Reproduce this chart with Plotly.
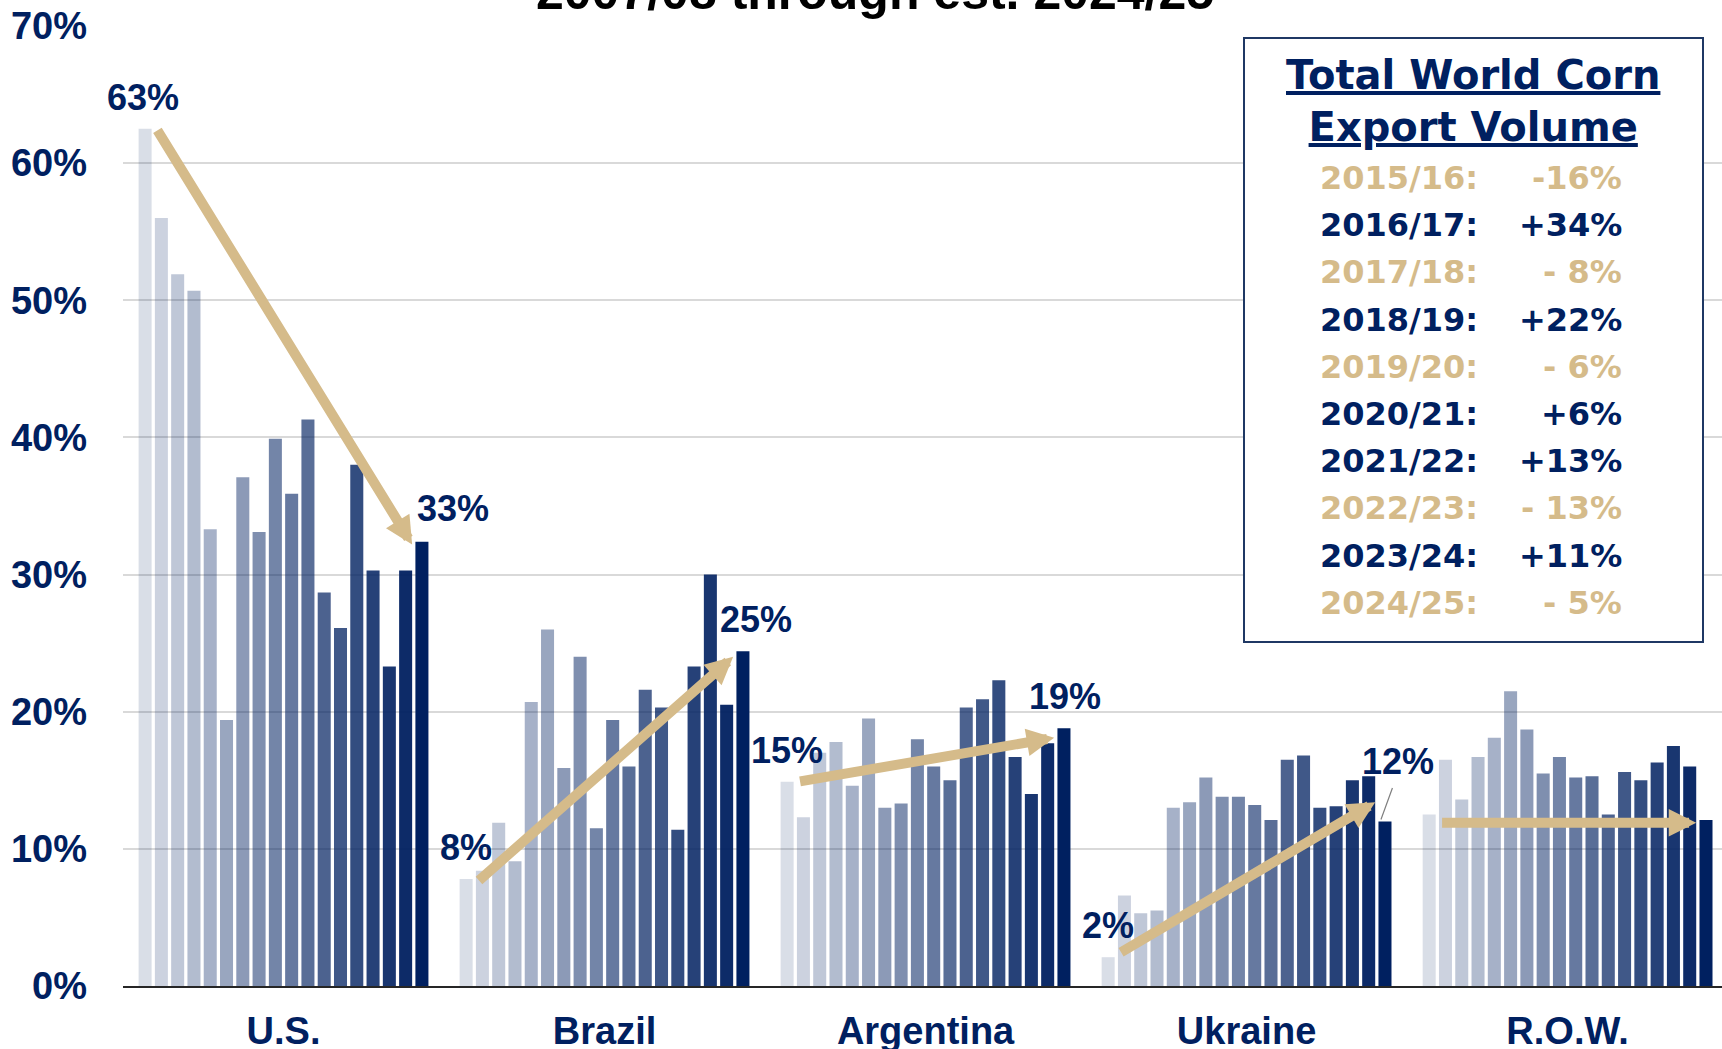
import plotly.graph_objects as go

# ---------------- data ----------------
countries = ["U.S.", "Brazil", "Argentina", "Ukraine", "R.O.W."]
years = ["2007/08", "2008/09", "2009/10", "2010/11", "2011/12", "2012/13", "2013/14",
         "2014/15", "2015/16", "2016/17", "2017/18", "2018/19", "2019/20", "2020/21",
         "2021/22", "2022/23", "2023/24", "2024/25"]

us = [62.5, 56.0, 51.9, 50.7, 33.3, 19.4, 37.1, 33.1, 39.9, 35.9, 41.3, 28.7, 26.1, 38.0, 30.3, 23.3, 30.3, 32.4]
brazil = [7.8, 8.4, 11.9, 9.1, 20.7, 26.0, 15.9, 24.0, 11.5, 19.4, 16.0, 21.6, 20.3, 11.4, 23.3, 30.0, 20.5, 24.4]
argentina = [14.9, 12.3, 17.0, 17.8, 14.6, 19.5, 13.0, 13.3, 18.0, 16.0, 15.0, 20.3, 20.9, 22.3, 16.7, 14.0, 17.7, 18.8]
ukraine = [2.1, 6.6, 5.3, 5.5, 13.0, 13.4, 15.2, 13.8, 13.8, 13.2, 12.1, 16.5, 16.8, 13.0, 13.1, 15.0, 15.3, 12.0]
row = [12.5, 16.5, 13.6, 16.7, 18.1, 21.5, 18.7, 15.5, 16.7, 15.2, 15.3, 12.5, 15.6, 15.0, 16.3, 17.5, 16.0, 12.1]

first_labels = ["63%", "8%", "15%", "2%", ""]
last_labels = ["33%", "25%", "19%", "12%", ""]

# trend arrows (start / end share, %)
arrow_start = [62.5, 7.6, 14.9, 2.4, 11.9]
arrow_end = [32.2, 24.0, 18.1, 13.4, 11.9]

table_years = ["2015/16:", "2016/17:", "2017/18:", "2018/19:", "2019/20:",
               "2020/21:", "2021/22:", "2022/23:", "2023/24:", "2024/25:"]
table_changes = ["-16%", "+34%", "- 8%", "+22%", "- 6%", "+6%", "+13%", "- 13%", "+11%", "- 5%"]

title_text = "2007/08 through est. 2024/25"
table_title_lines = ["Total World Corn", "Export Volume"]

# ---------------- style ----------------
NAVY = "#002060"
TAN = "#D5BB8A"
W, H = 1722, 1049
ML, MR, MT, MB = 123, 0, 26, 63
PW, PH = W - ML - MR, H - MT - MB
BARGAP = 0.087
NB = len(years)
XMAX = 4.481
FONT = "Liberation Sans, Arial, sans-serif"
TFONT = "DejaVu Sans, Verdana, sans-serif"

series = [us, brazil, argentina, ukraine, row]


def xpos(i, j):
    return i - 0.5 + BARGAP / 2 + (j + 0.5) * (1 - BARGAP) / NB


def px_x(px):
    return (px - ML) / PW


def px_y(py):
    return (H - MB - py) / PH


fig = go.Figure()
for j, yr in enumerate(years):
    a = 0.15 + 0.85 * j / (NB - 1)
    fig.add_trace(go.Bar(
        x=countries,
        y=[s[j] / 100 for s in series],
        name=yr,
        marker=dict(color=f"rgba(0,32,96,{a:.3f})", line=dict(width=0)),
    ))

annotations = []
first_shift = [(-2, 9), (0, 9), (0, 9), (0, 9), (0, 0)]
last_shift = [(31, 11), (13, 9), (1, 9), (13, 37), (0, 0)]
for i, s in enumerate(series):
    if first_labels[i]:
        annotations.append(dict(
            x=xpos(i, 0), y=s[0] / 100, xref="x", yref="y", text=f"<b>{first_labels[i]}</b>",
            showarrow=False, yanchor="bottom", xanchor="center",
            xshift=first_shift[i][0], yshift=first_shift[i][1],
            font=dict(family=FONT, size=36, color=NAVY)))
    if last_labels[i]:
        annotations.append(dict(
            x=xpos(i, NB - 1), y=s[-1] / 100, xref="x", yref="y", text=f"<b>{last_labels[i]}</b>",
            showarrow=False, yanchor="bottom", xanchor="center",
            xshift=last_shift[i][0], yshift=last_shift[i][1],
            font=dict(family=FONT, size=36, color=NAVY)))
    # trend arrow
    annotations.append(dict(
        x=xpos(i, 16.4), y=arrow_end[i] / 100, ax=xpos(i, 0.7), ay=arrow_start[i] / 100,
        xref="x", yref="y", axref="x", ayref="y", text="", showarrow=True,
        arrowhead=2, arrowsize=0.55, arrowwidth=10, arrowcolor=TAN, standoff=0, startstandoff=0))

# leader line for Ukraine 12%
annotations.append(dict(
    x=xpos(3, NB - 1), y=ukraine[-1] / 100, xref="x", yref="y", xshift=-4, yshift=2,
    ax=12, ay=-33, text="", showarrow=True, arrowhead=0, arrowwidth=1.2, arrowcolor="#7F7F7F"))

# title (cut off at top as in the original)
annotations.append(dict(
    x=px_x(875), y=1, xref="paper", yref="paper", yanchor="bottom", xanchor="center", yshift=4,
    text=f"<b>{title_text}</b>", showarrow=False,
    font=dict(family=FONT, size=50, color="black")))

# table box
title_html = "<br>".join(
    f"<span style='text-decoration:underline'><b>{t}</b></span>" for t in table_title_lines)
annotations.append(dict(
    x=px_x(1473), y=px_y(101), xref="paper", yref="paper", yanchor="middle", xanchor="center",
    text=title_html, showarrow=False, align="center",
    font=dict(family=TFONT, size=40, color=NAVY)))
for k, (yr, ch) in enumerate(zip(table_years, table_changes)):
    col = TAN if ch.startswith("-") else NAVY
    yc = 178 + k * 47.2
    annotations.append(dict(x=px_x(1318), y=px_y(yc), xref="paper", yref="paper",
                            xanchor="left", yanchor="middle", text=f"<b>{yr}</b>", showarrow=False,
                            font=dict(family=TFONT, size=32, color=col)))
    annotations.append(dict(x=px_x(1624), y=px_y(yc), xref="paper", yref="paper",
                            xanchor="right", yanchor="middle", text=f"<b>{ch}</b>", showarrow=False,
                            font=dict(family=TFONT, size=32, color=col)))

shapes = [dict(type="rect", xref="paper", yref="paper",
               x0=px_x(1244), x1=px_x(1703), y0=px_y(642), y1=px_y(38),
               line=dict(color="#1F3864", width=2), fillcolor="white", layer="above")]

fig.update_layout(
    width=W, height=H,
    margin=dict(l=ML, r=MR, t=MT, b=MB, pad=0, autoexpand=False),
    barmode="group", bargap=BARGAP, bargroupgap=0.2,
    plot_bgcolor="white", paper_bgcolor="white",
    showlegend=False,
    annotations=annotations,
    shapes=shapes,
    xaxis=dict(range=[-0.5, XMAX], showline=True, linecolor="#262626", linewidth=2,
               ticks="", ticklabelstandoff=10, showgrid=False, automargin=False,
               tickfont=dict(family=FONT, size=38, color=NAVY, weight="bold")),
    yaxis=dict(range=[0, 0.70], tickvals=[0, 0.1, 0.2, 0.3, 0.4, 0.5, 0.6, 0.7],
               tickformat=".0%", showgrid=True, gridcolor="#D9D9D9", gridwidth=1.5,
               zeroline=False, ticks="", ticklabelstandoff=35, automargin=False,
               tickfont=dict(family=FONT, size=38, color=NAVY, weight="bold")),
)

fig.write_html("out.html", config={"displayModeBar": False},
               post_script="document.body.style.margin='0';document.body.style.overflow='hidden';")
